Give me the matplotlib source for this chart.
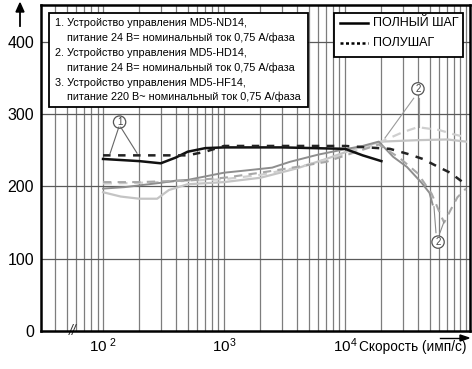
import matplotlib
matplotlib.use("Agg")
import matplotlib.pyplot as plt
from matplotlib.patches import Rectangle
from matplotlib.lines import Line2D

plt.rcParams['font.family'] = ['Liberation Sans', 'DejaVu Sans']
plt.rcParams['mathtext.fontset'] = 'custom'
plt.rcParams['mathtext.rm'] = 'Liberation Sans'
plt.rcParams['mathtext.it'] = 'Liberation Sans:italic'

# Torque vs. pulse rate for three drivers, full step and half step
speed_nd_full = [100, 200, 300, 400, 500, 700, 1000, 3000, 10000, 14000, 20000]
torque_nd_full = [238, 235, 232, 240, 248, 253, 254, 254, 252, 243, 235]

speed_nd_half = [100, 200, 500, 700, 1000, 3000, 10000, 23500, 33000, 44000, 59000, 74000, 94000, 100000]
torque_nd_half = [243, 243, 243, 248, 256, 256, 256, 252, 245, 238, 227, 219, 206, 200]

speed_hd_full = [100, 150, 300, 400, 500, 1000, 1500, 2500, 3500, 6000, 9000, 14000, 19000, 25000, 32500, 43000, 50000, 53000]
torque_hd_full = [197, 199, 205, 208, 209, 219, 222, 226, 234, 244, 250, 256, 262, 241, 227, 205, 191, 175]

speed_hd_half = [100, 200, 300, 500, 1000, 2000, 4000, 7000, 11000, 19000, 28000, 40000, 52000, 62000, 66000, 75000, 85000, 100000]
torque_hd_half = [206, 206, 207, 208, 212, 219, 227, 234, 245, 258, 240, 218, 190, 160, 150, 168, 185, 197]

speed_hf_full = [100, 140, 200, 280, 350, 500, 1000, 2000, 4000, 7000, 12000, 20000, 40000, 70000, 100000]
torque_hf_full = [192, 186, 183, 183, 195, 203, 206, 212, 225, 238, 252, 262, 264, 265, 262]

speed_hf_half = [100, 200, 400, 1000, 2000, 4000, 8000, 14000, 20000, 30000, 40000, 60000, 80000, 100000]
torque_hf_half = [204, 205, 207, 210, 216, 226, 240, 252, 262, 275, 282, 278, 272, 268]

y_ticks = [0, 100, 200, 300, 400]
x_ticks = [100, 1000, 10000]
x_tick_labels = [r'$\mathregular{10^{\ 2}}$', r'$\mathregular{10^{3}}$', r'$\mathregular{10^{4}}$']

legend_notes = [
    "1. Устройство управления MD5-ND14,",
    "питание 24 В= номинальный ток 0,75 А/фаза",
    "2. Устройство управления MD5-HD14,",
    "питание 24 В= номинальный ток 0,75 А/фаза",
    "3. Устройство управления MD5-HF14,",
    "питание 220 В~ номинальный ток 0,75 А/фаза",
]
step_modes = ["ПОЛНЫЙ ШАГ", "ПОЛУШАГ"]

W, H = 472, 369
fig = plt.figure(figsize=(W / 100, H / 100), dpi=100)


def fx(px):
    return px / W


def fy(py):
    return 1 - py / H


ax = fig.add_axes([fx(41), fy(331), fx(470) - fx(41), fy(5) - fy(331)])
ax.set_xscale('log')
ax.set_xlim(30.7, 1.08e5)
ax.set_ylim(0, 451)

# grid
for dec in [10, 100, 1000, 10000]:
    for m in range(1, 10):
        v = dec * m
        if 31 < v <= 1.0e5:
            ax.axvline(v, color='#7d7d7d', lw=0.9, zorder=1)
ax.axvline(1e5, color='#7d7d7d', lw=0.9, zorder=1)
for yv in y_ticks[1:]:
    ax.axhline(yv, color='#5a5a5a', lw=0.9, zorder=1)

# curves
ax.plot(speed_hf_full, torque_hf_full, color='#c4c4c4', lw=1.6, zorder=3)
ax.plot(speed_hf_half, torque_hf_half, color='#cfcfcf', lw=1.6, ls=(0, (4, 3)), zorder=3)
ax.plot(speed_hd_full, torque_hd_full, color='#8e8e8e', lw=1.4, zorder=4)
ax.plot(speed_hd_half, torque_hd_half, color='#a8a8a8', lw=1.5, ls=(0, (4, 3)), zorder=4)
ax.plot(speed_nd_full, torque_nd_full, color='#111111', lw=1.8, zorder=5)
ax.plot(speed_nd_half, torque_nd_half, color='#222222', lw=1.8, ls=(0, (3, 3)), zorder=5)

# callouts
circ = dict(boxstyle='circle,pad=0.12', fc='white', ec='#555555', lw=0.9)
ax.text(137, 289, '1', fontsize=7, ha='center', va='center', color='#444444', bbox=circ, zorder=6)
ax.plot([135, 114], [282, 245], color='#666666', lw=0.8, zorder=6)
ax.plot([140, 191], [282, 246], color='#666666', lw=0.8, zorder=6)
ax.text(40100, 335, '2', fontsize=7, ha='center', va='center', color='#444444', bbox=circ, zorder=6)
ax.plot([37000, 21400], [322, 267], color='#9a9a9a', lw=0.8, zorder=6)
ax.plot([41000, 41000], [322, 282], color='#9a9a9a', lw=0.8, zorder=6)
ax.text(58800, 123, '2', fontsize=7, ha='center', va='center', color='#444444', bbox=circ, zorder=6)
ax.plot([56500, 54400], [136, 172], color='#8a8a8a', lw=0.8, zorder=6)
ax.plot([61000, 65800], [136, 151], color='#8a8a8a', lw=0.8, zorder=6)

# axis break mark
ax.text(56.5, 0, '//', fontsize=10, style='italic', ha='center', va='center',
        color='#333333', zorder=7, clip_on=False)

for s in ax.spines.values():
    s.set_linewidth(1.8)
    s.set_color('black')
    s.set_zorder(8)

ax.set_yticks(y_ticks)
ax.set_yticklabels([str(v) for v in y_ticks])
ax.set_xticks(x_ticks)
ax.set_xticklabels(x_tick_labels)
ax.minorticks_off()
ax.tick_params(axis='y', length=0, pad=5, labelsize=11.5)
ax.tick_params(axis='x', length=0, pad=4, labelsize=11)

fig.text(fx(359), fy(347), "Скорость (имп/с)", fontsize=9.8, ha='left', va='center')

# axis arrows
fig.add_artist(plt.Line2D([fx(20), fx(20)], [fy(26), fy(10)], color='black', lw=1.3))
fig.patches.append(plt.Polygon([[fx(16), fy(12)], [fx(24), fy(12)], [fx(20), fy(3)]],
                               closed=True, color='black', transform=fig.transFigure))
fig.add_artist(plt.Line2D([fx(440), fx(462)], [fy(338), fy(338)], color='black', lw=1.0))
fig.patches.append(plt.Polygon([[fx(460), fy(335)], [fx(460), fy(341)], [fx(469), fy(338)]],
                               closed=True, color='black', transform=fig.transFigure))

# note box
fig.add_artist(Rectangle((fx(49), fy(107)), fx(308) - fx(49), fy(13) - fy(107),
                         transform=fig.transFigure, fc='white', ec='black', lw=1.3, zorder=9))
rows = [23, 38, 53, 68, 83, 97]
for i, (line, py) in enumerate(zip(legend_notes, rows)):
    x0 = 55 if i % 2 == 0 else 67
    fig.text(fx(x0), fy(py), line, fontsize=7.8, ha='left', va='center', zorder=10)

# step-mode box
fig.add_artist(Rectangle((fx(334), fy(57)), fx(463) - fx(334), fy(13) - fy(57),
                         transform=fig.transFigure, fc='white', ec='black', lw=1.3, zorder=9))
fig.add_artist(Line2D([fx(340), fx(368)], [fy(23), fy(23)], color='black', lw=1.8, zorder=10))
fig.add_artist(Line2D([fx(340), fx(368)], [fy(43), fy(43)], color='black', lw=1.8,
                      ls=(0, (1.2, 1.0)), zorder=10))
fig.text(fx(373), fy(23), step_modes[0], fontsize=9, ha='left', va='center', zorder=10)
fig.text(fx(373), fy(43), step_modes[1], fontsize=9, ha='left', va='center', zorder=10)

fig.savefig('out.png', dpi=100)
